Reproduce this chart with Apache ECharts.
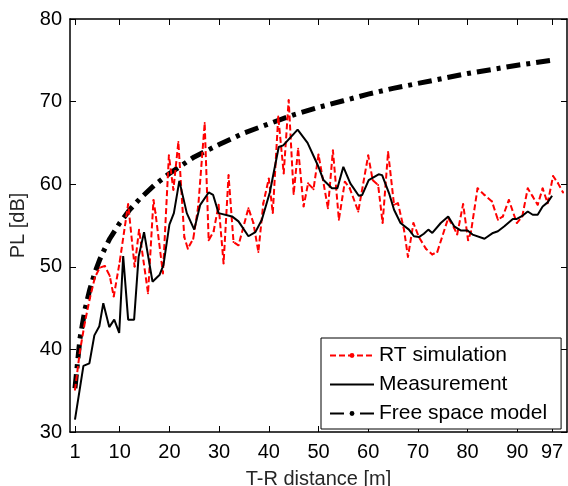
<!DOCTYPE html>
<html>
<head>
<meta charset="utf-8">
<title>PL vs T-R distance</title>
<script src="https://cdn.jsdelivr.net/npm/echarts@6/dist/echarts.min.js"></script>
<style>
	html, body { margin: 0; padding: 0; background: #fff; }
	#chart { width: 568px; height: 486px; }
</style>
</head>
<body>
<div id="chart"></div>
<script>
const xTicks = [1, 10, 20, 30, 40, 50, 60, 70, 80, 90, 97]

// RT simulation (red dashed)
const rtDist = [
	1, 2, 3, 4, 5, 6, 7, 8, 8.8, 10, 11.7, 13, 13.9, 15.7, 16.8, 17.2, 18.7, 19.9,
	20.8, 21.8, 23, 23.7, 24.8, 25.8, 27.1, 27.9, 28.9, 29.9, 30.9, 31.9, 32.9, 33.9,
	35.9, 36.9, 37.9, 38.9, 40, 40.8, 41.9, 43, 44, 45, 45.9, 47, 47.9, 49, 50, 51.9,
	52.9, 54.1, 55.3, 56.3, 58, 60, 60.9, 62, 62.9, 64, 65.2, 66, 67.2, 68, 69.1,
	70.2, 71.6, 72.9, 73.9, 76.1, 77.3, 77.9, 79.1, 80.1, 80.7, 82, 83.4, 84.9, 86.1,
	87.1, 88.3, 89.9, 91, 92.1, 93.1, 94.1, 95.1, 96.1, 97.2, 98.2, 99.2,
]
const rtPL = [
	35.1, 39.8, 43.3, 46.2, 48.7, 49.9, 50.1, 48.9, 46.4, 50.6, 57.6, 50.0, 54.5, 46.8, 58.1, 56.5, 49.2, 63.5,
	59.3, 65.1, 53.6, 52.2, 53.4, 57.3, 67.4, 53.2, 54.3, 57.5, 50.4, 61.1, 53.0, 52.6,
	57.1, 55.3, 51.8, 57.7, 60.7, 56.5, 68.2, 61.3, 70.2, 58.8, 64.3, 57.3, 60.1, 59.4, 63.6, 57.1,
	64.1, 55.7, 60.3, 59.5, 56.7, 63.5, 60.5, 59.9, 55.3, 63.9, 57.5, 57.7, 54.5, 51.2, 55.3,
	53.6, 52.2, 51.5, 51.8, 55.9, 54.7, 53.9, 57.6, 53.2, 54.3, 59.5, 58.7, 57.9, 55.7,
	56.1, 58.1, 55.3, 56.1, 59.5, 58.5, 57.5, 59.5, 57.7, 61.0, 60.1, 59.0,
]

// Measurement (black solid)
const measDist = [
	1, 2.7, 3.9, 4.9, 5.9, 6.7, 7.9, 8.9, 9.9, 10.7, 11.7, 12.9, 13.8, 14.9, 16.6, 18, 18.8,
	20, 20.9, 22, 23.5, 25, 26.2, 27.9, 28.8, 29.9, 32.6, 33.9, 35.9, 37.3, 38.6, 40.2,
	42, 42.9, 45.8, 47.8, 49.4, 50, 51, 52.7, 53.8, 55, 56.4, 58.1, 58.8, 60.1, 62.1,
	62.8, 64.2, 65.2, 66.5, 68.2, 69.2, 70.2, 71.2, 72.1, 72.9, 74.6, 76.1, 77.3, 78.6,
	80, 81, 83.4, 85.1, 86.1, 87.4, 89.1, 89.9, 91.1, 92.1, 93.1, 94.1, 95.1, 96.1, 97,
]
const measPL = [
	31.5, 38.0, 38.3, 41.7, 42.8, 45.6, 42.7, 43.6, 42.0, 51.3, 43.6, 43.6, 51.2, 54.2, 48.2, 49.0, 50.2,
	55.1, 56.5, 60.4, 56.5, 54.5, 57.5, 59.0, 58.7, 56.5, 56.1, 55.5, 53.7, 54.2, 55.7, 59.0,
	64.5, 64.7, 66.6, 65.0, 62.9, 62.1, 60.5, 59.5, 59.5, 62.1, 60.1, 58.6, 58.7, 60.5, 61.2,
	61.1, 58.9, 56.9, 55.3, 54.5, 53.7, 53.6, 54.0, 54.5, 54.1, 55.3, 56.1, 54.9, 54.4,
	54.4, 53.9, 53.4, 54.1, 54.3, 54.9, 55.8, 55.8, 56.2, 56.7, 56.3, 56.3, 57.3, 57.8, 58.6,
]

// Free space model (black dash-dot)
const fsDist = [1, 2, 3, 4, 5, 6, 7, 8, 10, 12, 14, 17, 20, 25, 30, 35, 40, 45, 50, 55, 60, 65, 70, 75, 80, 85, 90, 97]
const fsPL = [
	35.3, 41.3, 44.8, 47.3, 49.3, 50.9, 52.2, 53.4, 55.3, 56.9, 58.2, 59.9, 61.3, 63.3, 64.8,
	66.2, 67.3, 68.4, 69.3, 70.1, 70.9, 71.6, 72.2, 72.8, 73.4, 73.9, 74.4, 75.0,
]

const zip = (xs, ys) => xs.map((x, i) => [x, ys[i]])

const fontName = '"Liberation Sans", Arial, sans-serif'
const textColor = '#262626'

const axisCommon = {
	axisLine: { show: true, onZero: false, lineStyle: { color: '#000', width: 1.5 } },
	axisTick: { show: true, inside: true, length: 6, lineStyle: { color: '#000', width: 1 } },
	splitLine: { show: false },
}

const chart = echarts.init(document.getElementById('chart'))

const option = {
	animation: false,
	backgroundColor: '#fff',
	grid: { left: 70, right: 1, top: 19, bottom: 54, outerBoundsMode: 'none', containLabel: false },
	legend: {
		orient: 'vertical',
		left: 321,
		top: 338,
		padding: [7, 14, 5, 8],
		itemGap: 8,
		itemWidth: 44,
		itemHeight: 6,
		backgroundColor: '#fff',
		borderColor: '#000',
		borderWidth: 1,
		borderRadius: 0,
		textStyle: { fontFamily: fontName, fontSize: 21, color: '#000' },
		data: [
			'RT simulation',
			{ name: 'Measurement', itemStyle: { color: 'rgba(0,0,0,0)', borderWidth: 0 } },
			'Free space model',
		],
	},
	xAxis: [
		{
			type: 'value',
			position: 'bottom',
			min: 0,
			max: 100,
			...axisCommon,
			axisTick: { ...axisCommon.axisTick, customValues: xTicks },
			axisLabel: {
				customValues: xTicks,
				fontFamily: fontName,
				fontSize: 20,
				color: '#000',
				margin: 10,
			},
			name: 'T-R distance [m]',
			nameLocation: 'middle',
			nameGap: 37,
			nameTextStyle: { fontFamily: fontName, fontSize: 20, color: textColor },
		},
		{
			type: 'value',
			position: 'top',
			min: 0,
			max: 100,
			...axisCommon,
			axisTick: { ...axisCommon.axisTick, customValues: xTicks },
			axisLabel: { show: false, customValues: xTicks },
		},
	],
	yAxis: [
		{
			type: 'value',
			position: 'left',
			min: 30,
			max: 80,
			interval: 10,
			...axisCommon,
			axisLabel: { fontFamily: fontName, fontSize: 20, color: '#000', margin: 8 },
			name: 'PL [dB]',
			nameLocation: 'middle',
			nameGap: 36,
			nameTextStyle: { fontFamily: fontName, fontSize: 20, color: textColor },
		},
		{
			type: 'value',
			position: 'right',
			min: 30,
			max: 80,
			interval: 10,
			...axisCommon,
			axisLabel: { show: false },
		},
	],
	series: [
		{
			name: 'Free space model',
			type: 'line',
			data: zip(fsDist, fsPL),
			symbol: 'none',
			z: 3,
			lineStyle: { color: '#000', width: 5, type: [14, 6, 4, 6], cap: 'butt' },
			itemStyle: { color: '#000' },
		},
		{
			name: 'RT simulation',
			type: 'line',
			data: zip(rtDist, rtPL),
			symbol: 'circle',
			symbolSize: 2,
			z: 4,
			lineStyle: { color: '#ff0000', width: 2, type: [6, 3] },
			itemStyle: { color: '#ff0000' },
		},
		{
			name: 'Measurement',
			type: 'line',
			data: zip(measDist, measPL),
			symbol: 'none',
			z: 5,
			lineStyle: { color: '#000', width: 2 },
			itemStyle: { color: '#000' },
		},
	],
}

chart.setOption(option)
</script>
</body>
</html>
